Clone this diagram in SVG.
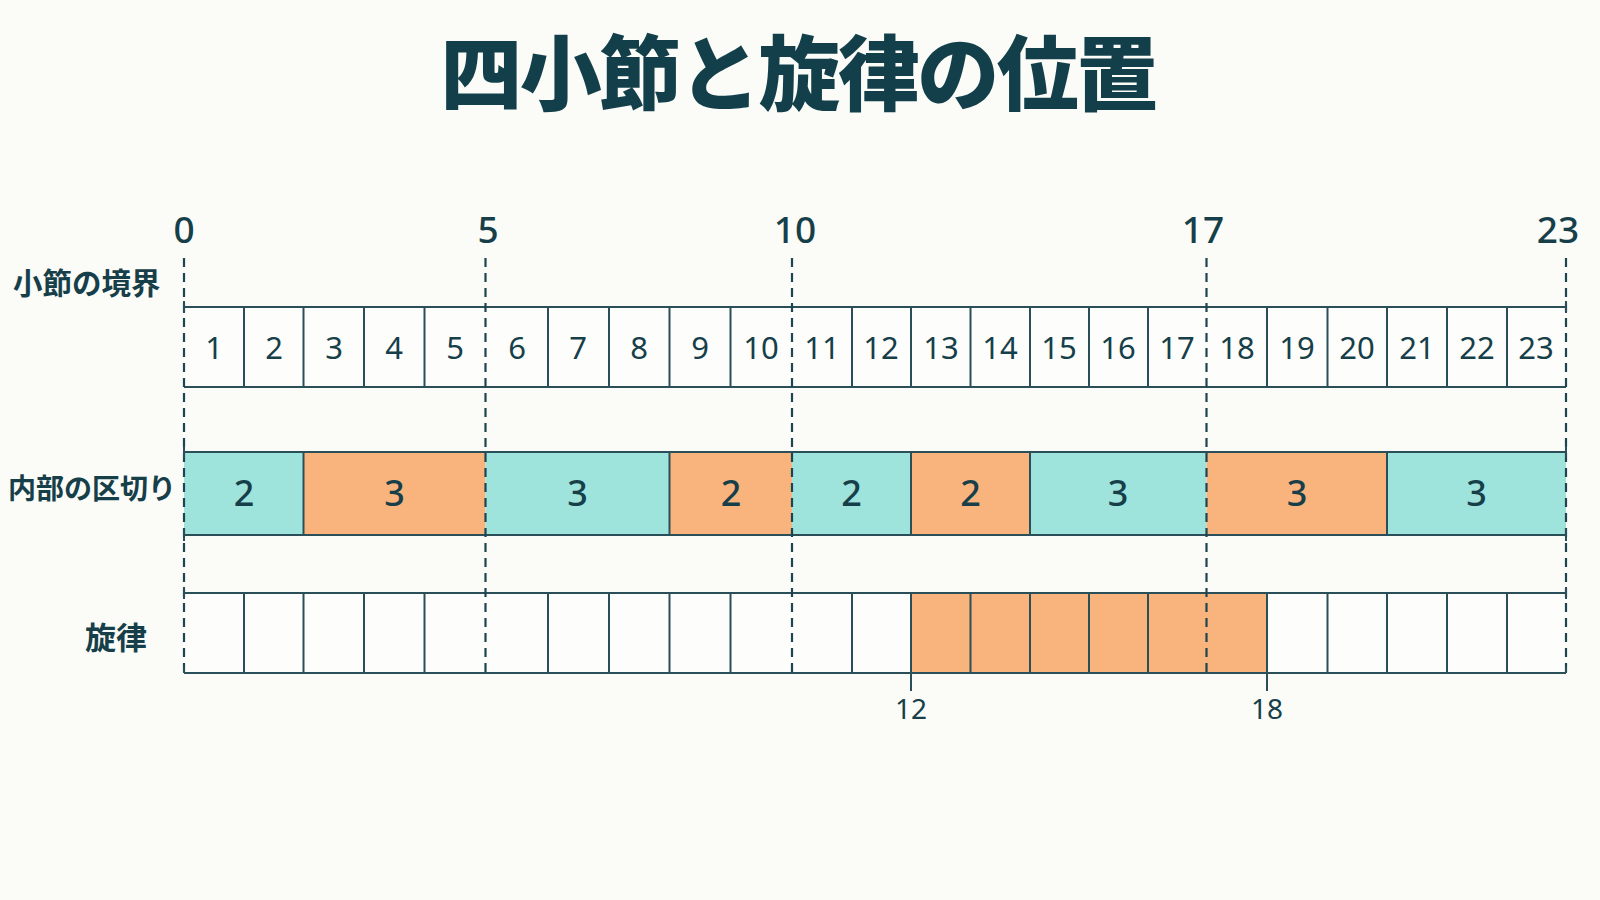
<svg xmlns="http://www.w3.org/2000/svg" width="1600" height="900" viewBox="0 0 1600 900">
<style>
.bg{fill:#fbfbf8}
.title{font-family:"Noto Sans CJK JP","Noto Sans",sans-serif;font-weight:900;font-size:82px;fill:#123f49;letter-spacing:-2.5px}
.rowlbl{font-family:"Noto Sans CJK JP","Noto Sans",sans-serif;font-weight:700;fill:#163f49}
.tick{font-family:"Noto Sans","Noto Sans CJK JP",sans-serif;font-weight:500;font-size:37px;fill:#163f49;text-anchor:middle}
.cellnum{font-family:"Noto Sans","Noto Sans CJK JP",sans-serif;font-weight:400;font-size:31px;fill:#163f49;text-anchor:middle}
.partnum{font-family:"Noto Sans","Noto Sans CJK JP",sans-serif;font-weight:500;font-size:36px;fill:#163f49;text-anchor:middle}
.small{font-family:"Noto Sans","Noto Sans CJK JP",sans-serif;font-weight:400;font-size:28px;fill:#163f49;text-anchor:middle}
.ln{stroke:#2a4f58;stroke-width:2;fill:none}
.dash{stroke:#1d4550;stroke-width:2.2;stroke-dasharray:9 6;fill:none}
.teal{fill:#9fe3dd}
.orange{fill:#f9b47e}
.white{fill:#fdfdfb}
</style>
<rect class="bg" x="0" y="0" width="1600" height="900"/>

<g id="title">
<text class="title" x="798" y="104" text-anchor="middle">四小節と旋律の位置</text>
</g>

<g id="boundary-labels">
<text class="tick" x="184" y="243">0</text>
<text class="tick" x="488" y="243">5</text>
<text class="tick" x="795" y="243">10</text>
<text class="tick" x="1203" y="243">17</text>
<text class="tick" x="1558" y="243">23</text>
</g>

<g id="row-labels">
<text class="rowlbl" x="13" y="294" font-size="29.5">小節の境界</text>
<text class="rowlbl" x="8" y="499" font-size="28">内部の区切り</text>
<text class="rowlbl" x="85" y="649" font-size="31">旋律</text>
</g>

<g id="measures-row">
<rect class="white" x="184" y="307" width="1382" height="80"/>
<line class="ln" x1="184" y1="307" x2="1566" y2="307"/>
<line class="ln" x1="184" y1="387" x2="1566" y2="387"/>
<path class="ln" d="M244 307V387M303.5 307V387M364 307V387M424.5 307V387M548 307V387M609 307V387M669.5 307V387M730.5 307V387M852 307V387M911 307V387M970.5 307V387M1030 307V387M1089 307V387M1148 307V387M1267 307V387M1327.5 307V387M1387 307V387M1447 307V387M1507 307V387"/>
<text class="cellnum" x="214" y="359">1</text>
<text class="cellnum" x="274" y="359">2</text>
<text class="cellnum" x="334" y="359">3</text>
<text class="cellnum" x="394" y="359">4</text>
<text class="cellnum" x="455" y="359">5</text>
<text class="cellnum" x="517" y="359">6</text>
<text class="cellnum" x="578" y="359">7</text>
<text class="cellnum" x="639" y="359">8</text>
<text class="cellnum" x="700" y="359">9</text>
<text class="cellnum" x="761" y="359">10</text>
<text class="cellnum" x="822" y="359">11</text>
<text class="cellnum" x="881" y="359">12</text>
<text class="cellnum" x="941" y="359">13</text>
<text class="cellnum" x="1000" y="359">14</text>
<text class="cellnum" x="1059" y="359">15</text>
<text class="cellnum" x="1118" y="359">16</text>
<text class="cellnum" x="1177" y="359">17</text>
<text class="cellnum" x="1237" y="359">18</text>
<text class="cellnum" x="1297" y="359">19</text>
<text class="cellnum" x="1357" y="359">20</text>
<text class="cellnum" x="1417" y="359">21</text>
<text class="cellnum" x="1477" y="359">22</text>
<text class="cellnum" x="1536" y="359">23</text>
</g>

<g id="partition-row">
<rect class="teal" x="184" y="452" width="119.5" height="83"/>
<rect class="orange" x="303.5" y="452" width="182" height="83"/>
<rect class="teal" x="485.5" y="452" width="184" height="83"/>
<rect class="orange" x="669.5" y="452" width="122.5" height="83"/>
<rect class="teal" x="792" y="452" width="119" height="83"/>
<rect class="orange" x="911" y="452" width="119" height="83"/>
<rect class="teal" x="1030" y="452" width="176.5" height="83"/>
<rect class="orange" x="1206.5" y="452" width="180.5" height="83"/>
<rect class="teal" x="1387" y="452" width="179" height="83"/>
<line class="ln" x1="184" y1="452" x2="1566" y2="452"/>
<line class="ln" x1="184" y1="535" x2="1566" y2="535"/>
<path class="ln" d="M303.5 452V535M669.5 452V535M911 452V535M1030 452V535M1387 452V535"/>
<text class="partnum" x="244" y="506">2</text>
<text class="partnum" x="394.5" y="506">3</text>
<text class="partnum" x="577.5" y="506">3</text>
<text class="partnum" x="731" y="506">2</text>
<text class="partnum" x="851.5" y="506">2</text>
<text class="partnum" x="970.5" y="506">2</text>
<text class="partnum" x="1118" y="506">3</text>
<text class="partnum" x="1297" y="506">3</text>
<text class="partnum" x="1476.5" y="506">3</text>
</g>

<g id="melody-row">
<rect class="white" x="184" y="593" width="1382" height="80"/>
<rect class="orange" x="911" y="593" width="356" height="80"/>
<line class="ln" x1="184" y1="593" x2="1566" y2="593"/>
<line class="ln" x1="184" y1="673" x2="1566" y2="673"/>
<path class="ln" d="M244 593V673M303.5 593V673M364 593V673M424.5 593V673M548 593V673M609 593V673M669.5 593V673M730.5 593V673M852 593V673M970.5 593V673M1030 593V673M1089 593V673M1148 593V673M1327.5 593V673M1387 593V673M1447 593V673M1507 593V673"/>
<path class="ln" d="M911 593V691M1267 593V691"/>
<text class="small" x="911" y="719">12</text>
<text class="small" x="1267" y="719">18</text>
</g>

<g id="connectors">
<path class="dash" d="M184 258V673M485.5 258V673M792 258V673M1206.5 258V673M1566 258V673"/>
<path class="ln" d="M184 301V313M1566 301V313M184 446V458M1566 446V458M184 529V541M1566 529V541M184 587V599M1566 587V599M184 667V673M1566 667V673"/>
</g>
</svg>
